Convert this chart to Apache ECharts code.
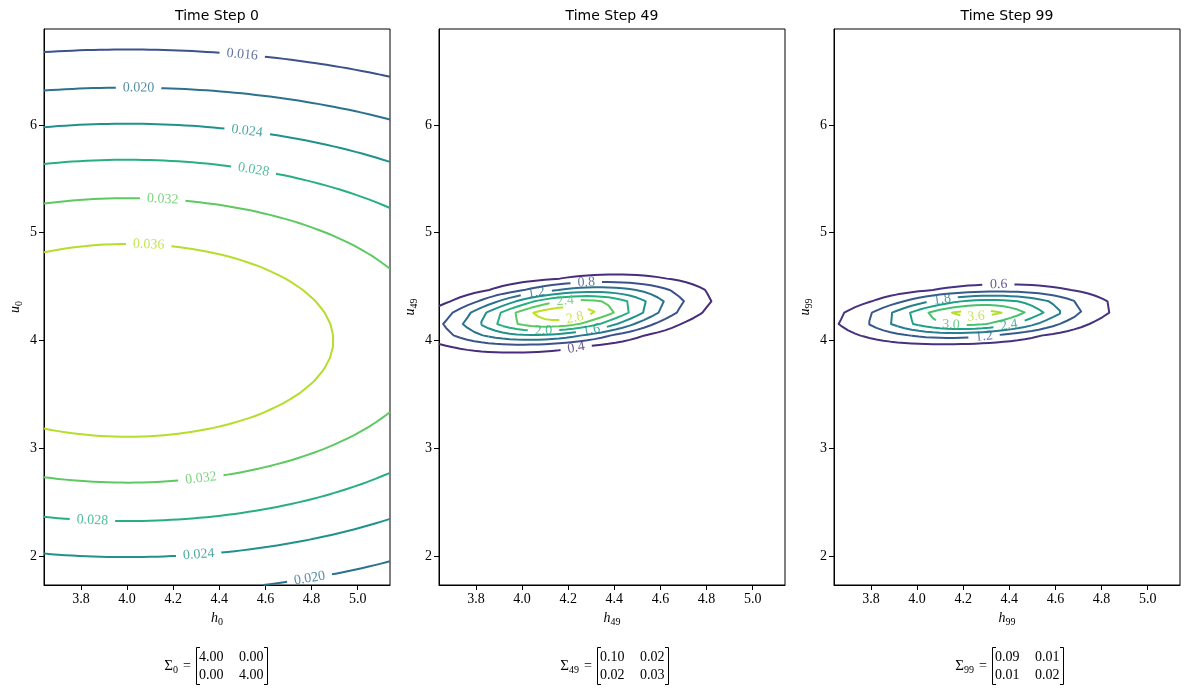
<!DOCTYPE html>
<html><head><meta charset="utf-8">
<script src="https://cdn.jsdelivr.net/npm/echarts@6/dist/echarts.min.js"></script>
<style>html,body{margin:0;padding:0;background:#fff}#c{width:1189px;height:692px}</style>
</head><body><div id="c"></div><script>
// ---------------- data ----------------
const X_RANGE = [3.64, 5.14];
const Y_RANGE = [1.73, 6.89];
const GRID_N = 50;
const steps = [0, 49, 99];
const meanH = [4.00, 4.18, 4.25];
const meanU = [4.00, 4.25, 4.24];
const covHH = [4.00, 0.10, 0.094];
const covHU = [0.00, 0.02, 0.01];
const covUU = [4.00, 0.03, 0.019];
const levels0 = [0.016, 0.020, 0.024, 0.028, 0.032, 0.036];
const levels49 = [0.4, 0.8, 1.2, 1.6, 2.0, 2.4, 2.8];
const levels99 = [0.6, 1.2, 1.8, 2.4, 3.0, 3.6];
const xTicks = [3.8, 4.0, 4.2, 4.4, 4.6, 4.8, 5.0];
const yTicks = [2, 3, 4, 5, 6];
// contour label anchors: [level, h, u]
const labels0 = [[0.016,4.50,6.67],[0.020,4.05,6.35],[0.024,4.52,5.94],[0.028,4.55,5.60],[0.032,4.155,5.32],[0.036,4.094,4.90],[0.032,4.32,2.73],[0.028,3.85,2.34],[0.024,4.31,2.03],[0.020,4.79,1.81]];
const labels49 = [[0.8,4.278,4.552],[1.2,4.061,4.45],[2.4,4.187,4.357],[2.8,4.227,4.234],[2.0,4.093,4.105],[1.6,4.30,4.11],[0.4,4.235,3.926]];
const labels99 = [[0.6,4.354,4.503],[1.8,4.109,4.38],[3.0,4.148,4.167],[3.6,4.257,4.188],[2.4,4.398,4.151],[1.2,4.29,4.05]];

// ---------------- style ----------------
const colors0 = ['#3b528b','#2c728e','#21918c','#29af7f','#5ec962','#b5de2b'];
const colors49 = ['#472d7b','#3b528b','#2c728e','#21918c','#29af7f','#5ec962','#bddf26'];
const colors99 = ['#46327e','#375a8c','#287d8e','#1fa188','#48c16e','#b5de2b'];
const labelDecimals = [3, 1, 1];
const PANEL_LEFT = [44, 439, 834];
const PANEL_TOP = 29, PANEL_W = 346, PANEL_H = 556;
const SERIF = '"Liberation Serif", "DejaVu Serif", serif';
const SX = PANEL_W / (X_RANGE[1] - X_RANGE[0]);
const SY = PANEL_H / (Y_RANGE[1] - Y_RANGE[0]);

const LEVELS = [levels0, levels49, levels99];
const COLORS = [colors0, colors49, colors99];
const LABELS = [labels0, labels49, labels99];

function density(k, x, y) {
  const a = covHH[k], b = covHU[k], c = covUU[k];
  const det = a * c - b * b;
  const dx = x - meanH[k], dy = y - meanU[k];
  const q = (c * dx * dx - 2 * b * dx * dy + a * dy * dy) / det;
  return Math.exp(-0.5 * q) / (2 * Math.PI * Math.sqrt(det));
}

const xs = [], ys = [];
for (let i = 0; i < GRID_N; i++) {
  xs.push(X_RANGE[0] + i * (X_RANGE[1] - X_RANGE[0]) / (GRID_N - 1));
  ys.push(Y_RANGE[0] + i * (Y_RANGE[1] - Y_RANGE[0]) / (GRID_N - 1));
}

function contour(z, L) {
  const nx = xs.length, ny = ys.length;
  const pts = {}, segs = [];
  function ept(e, i, j) {
    let key, ax, ay, bx, by;
    if (e === 0) { key = 'h' + i + '_' + j; ax = i; ay = j; bx = i + 1; by = j; }
    else if (e === 1) { key = 'v' + (i + 1) + '_' + j; ax = i + 1; ay = j; bx = i + 1; by = j + 1; }
    else if (e === 2) { key = 'h' + i + '_' + (j + 1); ax = i; ay = j + 1; bx = i + 1; by = j + 1; }
    else { key = 'v' + i + '_' + j; ax = i; ay = j; bx = i; by = j + 1; }
    if (!pts[key]) {
      const va = z[ay][ax], vb = z[by][bx];
      const t = (L - va) / (vb - va);
      pts[key] = [xs[ax] + t * (xs[bx] - xs[ax]), ys[ay] + t * (ys[by] - ys[ay])];
    }
    return key;
  }
  const table = {1:[[3,0]],2:[[0,1]],3:[[3,1]],4:[[1,2]],6:[[0,2]],7:[[3,2]],8:[[2,3]],9:[[0,2]],11:[[1,2]],12:[[1,3]],13:[[0,1]],14:[[0,3]]};
  for (let j = 0; j < ny - 1; j++) for (let i = 0; i < nx - 1; i++) {
    const v0 = z[j][i], v1 = z[j][i + 1], v2 = z[j + 1][i + 1], v3 = z[j + 1][i];
    const idx = (v0 > L ? 1 : 0) | (v1 > L ? 2 : 0) | (v2 > L ? 4 : 0) | (v3 > L ? 8 : 0);
    let pairs = table[idx];
    if (idx === 5 || idx === 10) {
      const cen = (v0 + v1 + v2 + v3) / 4 > L;
      if (idx === 5) pairs = cen ? [[0,1],[2,3]] : [[3,0],[1,2]];
      else pairs = cen ? [[3,0],[1,2]] : [[0,1],[2,3]];
    }
    if (!pairs) continue;
    for (const p of pairs) segs.push([ept(p[0], i, j), ept(p[1], i, j)]);
  }
  const adj = {};
  segs.forEach((s, n) => { (adj[s[0]] = adj[s[0]] || []).push(n); (adj[s[1]] = adj[s[1]] || []).push(n); });
  const used = new Array(segs.length).fill(false);
  const polys = [];
  function walk(seg, key) {
    const path = [key];
    let cur = key;
    while (true) {
      used[seg] = true;
      const other = segs[seg][0] === cur ? segs[seg][1] : segs[seg][0];
      path.push(other);
      const nxt = (adj[other] || []).find(n => !used[n]);
      if (nxt === undefined) break;
      cur = other; seg = nxt;
    }
    polys.push(path.map(k => pts[k]));
  }
  for (const key in adj) if (adj[key].length === 1 && !used[adj[key][0]]) walk(adj[key][0], key);
  segs.forEach((s, n) => { if (!used[n]) walk(n, s[0]); });
  return polys;
}

function nearest(polys, x, y) {
  let best = { d: Infinity };
  const px = x * SX, py = y * SY;
  polys.forEach(p => {
    for (let k = 0; k < p.length - 1; k++) {
      const ax = p[k][0] * SX, ay = p[k][1] * SY, bx = p[k + 1][0] * SX, by = p[k + 1][1] * SY;
      const dx = bx - ax, dy = by - ay, l2 = dx * dx + dy * dy;
      let t = l2 > 0 ? ((px - ax) * dx + (py - ay) * dy) / l2 : 0;
      t = Math.max(0, Math.min(1, t));
      const qx = ax + t * dx, qy = ay + t * dy;
      const d = Math.hypot(px - qx, py - qy);
      if (d < best.d) {
        let ang = Math.atan2(dy, dx) * 180 / Math.PI;
        if (ang > 90) ang -= 180; if (ang < -90) ang += 180;
        best = { d, pt: [qx / SX, qy / SY], ang };
      }
    }
  });
  return best;
}

function splitOutside(poly, C, r) {
  const cx = C[0] * SX, cy = C[1] * SY;
  const inside = p => Math.hypot(p[0] * SX - cx, p[1] * SY - cy) < r;
  const out = [];
  let cur = [];
  let isIn = inside(poly[0]);
  if (!isIn) cur.push(poly[0]);
  for (let k = 0; k < poly.length - 1; k++) {
    const A = poly[k], B = poly[k + 1];
    const ax = A[0] * SX, ay = A[1] * SY;
    const dx = B[0] * SX - ax, dy = B[1] * SY - ay;
    const fx = ax - cx, fy = ay - cy;
    const qa = dx * dx + dy * dy, qb = 2 * (fx * dx + fy * dy), qc = fx * fx + fy * fy - r * r;
    const disc = qb * qb - 4 * qa * qc;
    const ts = [];
    if (disc > 0 && qa > 0) {
      const s = Math.sqrt(disc);
      [(-qb - s) / (2 * qa), (-qb + s) / (2 * qa)].forEach(t => { if (t > 0 && t < 1) ts.push(t); });
    }
    for (const t of ts) {
      const pt = [A[0] + t * (B[0] - A[0]), A[1] + t * (B[1] - A[1])];
      if (!isIn) { cur.push(pt); if (cur.length >= 2) out.push(cur); cur = []; isIn = true; }
      else { cur = [pt]; isIn = false; }
    }
    if (!isIn) cur.push(B);
  }
  if (cur.length >= 2) out.push(cur);
  return out;
}

const series = [];
for (let k = 0; k < 3; k++) {
  const z = ys.map(y => xs.map(x => density(k, x, y)));
  const levs = LEVELS[k];
  const labelData = [];
  levs.forEach((L, li) => {
    let pieces = contour(z, L);
    const anchors = LABELS[k].filter(a => Math.abs(a[0] - L) < 1e-9);
    const txt = L.toFixed(labelDecimals[k]);
    const w = (txt.replace('.', '').length * 0.5 + 0.25) * 14;
    const r = w / 2 + 7;
    const cuts = anchors.map(a => nearest(pieces, a[1], a[2]));
    cuts.forEach(c => {
      if (!c.pt) return;
      labelData.push({ value: c.pt, label: { formatter: txt, rotate: c.ang, color: COLORS[k][li] } });
    });
    cuts.forEach(c => { if (c.pt) pieces = pieces.flatMap(p => splitOutside(p, c.pt, r)); });
    pieces.forEach(p => {
      series.push({
        type: 'line', xAxisIndex: k, yAxisIndex: k, data: p, showSymbol: false, symbol: 'none',
        silent: true, animation: false, clip: true,
        lineStyle: { color: COLORS[k][li], width: 2, cap: 'butt', join: 'round' }
      });
    });
  });
  series.push({
    type: 'scatter', xAxisIndex: k, yAxisIndex: k, data: labelData, symbolSize: 1, silent: true,
    itemStyle: { color: 'rgba(0,0,0,0)' }, z: 5,
    label: { show: true, position: 'inside', fontFamily: SERIF, fontSize: 14 }
  });
}

const grids = [], xAxes = [], yAxes = [], graphics = [];
for (let k = 0; k < 3; k++) {
  grids.push({ left: PANEL_LEFT[k], top: PANEL_TOP, width: PANEL_W, height: PANEL_H, show: true, borderColor: '#000', borderWidth: 1, backgroundColor: 'rgba(0,0,0,0)' });
  const sub = String(steps[k]);
  xAxes.push({
    gridIndex: k, type: 'value', min: X_RANGE[0], max: X_RANGE[1],
    name: '{i|h}{s|' + sub + '}', nameLocation: 'middle', nameGap: 24,
    nameTextStyle: { rich: { i: { fontFamily: SERIF, fontStyle: 'italic', fontSize: 14, color: '#000' }, s: { fontFamily: SERIF, fontSize: 10, color: '#000', padding: [8, 0, 0, 0] } } },
    axisLine: { show: true, onZero: false, lineStyle: { color: '#000', width: 1 } },
    axisTick: { show: true, length: 5, customValues: xTicks, lineStyle: { color: '#000' } },
    axisLabel: { customValues: xTicks, formatter: v => Number(v).toFixed(1), fontFamily: SERIF, fontSize: 14, color: '#000', margin: 7 },
    splitLine: { show: false }
  });
  yAxes.push({
    gridIndex: k, type: 'value', min: Y_RANGE[0], max: Y_RANGE[1],
    name: '{i|u}{s|' + sub + '}', nameLocation: 'middle', nameGap: 20, nameRotate: 90,
    nameTextStyle: { rich: { i: { fontFamily: SERIF, fontStyle: 'italic', fontSize: 14, color: '#000' }, s: { fontFamily: SERIF, fontSize: 10, color: '#000', padding: [8, 0, 0, 0] } } },
    axisLine: { show: true, onZero: false, lineStyle: { color: '#000', width: 1 } },
    axisTick: { show: true, length: 5, customValues: yTicks, lineStyle: { color: '#000' } },
    axisLabel: { customValues: yTicks, formatter: v => String(Math.round(v)), fontFamily: SERIF, fontSize: 14, color: '#000', margin: 7 },
    splitLine: { show: false }
  });
  const cxp = PANEL_LEFT[k] + PANEL_W / 2;
  graphics.push({ type: 'text', x: cxp, y: 16, style: { text: 'Time Step ' + steps[k], font: '14px "DejaVu Sans"', fill: '#000', textAlign: 'center', textVerticalAlign: 'middle', align: 'center', verticalAlign: 'middle' } });
  // Sigma annotation
  const bx = PANEL_LEFT[k] + 152 + (k === 0 ? 0 : 6);
  const ent = [[covHH[k], covHU[k]], [covHU[k], covUU[k]]];
  graphics.push({ type: 'text', x: bx - 1, y: 666, style: {
    text: '{a|Σ}{s|' + sub + '}{e|=}', textAlign: 'right', textVerticalAlign: 'middle', align: 'right', verticalAlign: 'middle',
    rich: { a: { fontFamily: SERIF, fontSize: 15, fill: '#000' }, s: { fontFamily: SERIF, fontSize: 10, fill: '#000', padding: [8, 0, 0, 0] }, e: { fontFamily: SERIF, fontSize: 14, fill: '#000', padding: [0, 4, 0, 5] } } } });
  const rowsY = [657, 675], colsX = [bx + 3, bx + 43];
  for (let r = 0; r < 2; r++) for (let c = 0; c < 2; c++) {
    graphics.push({ type: 'text', x: colsX[c], y: rowsY[r], style: { text: ent[r][c].toFixed(2), font: '14px ' + SERIF, fill: '#000', textAlign: 'left', textVerticalAlign: 'middle', align: 'left', verticalAlign: 'middle' } });
  }
  graphics.push({ type: 'polyline', shape: { points: [[bx + 4, 647.5], [bx + 0.5, 647.5], [bx + 0.5, 684.5], [bx + 4, 684.5]] }, style: { stroke: '#000', lineWidth: 1, fill: null } });
  graphics.push({ type: 'polyline', shape: { points: [[bx + 68, 647.5], [bx + 71.5, 647.5], [bx + 71.5, 684.5], [bx + 68, 684.5]] }, style: { stroke: '#000', lineWidth: 1, fill: null } });
}

const chart = echarts.init(document.getElementById('c'), null, { renderer: 'canvas' });
chart.setOption({ animation: false, backgroundColor: '#fff', grid: grids, xAxis: xAxes, yAxis: yAxes, series: series, graphic: graphics });
</script></body></html>
